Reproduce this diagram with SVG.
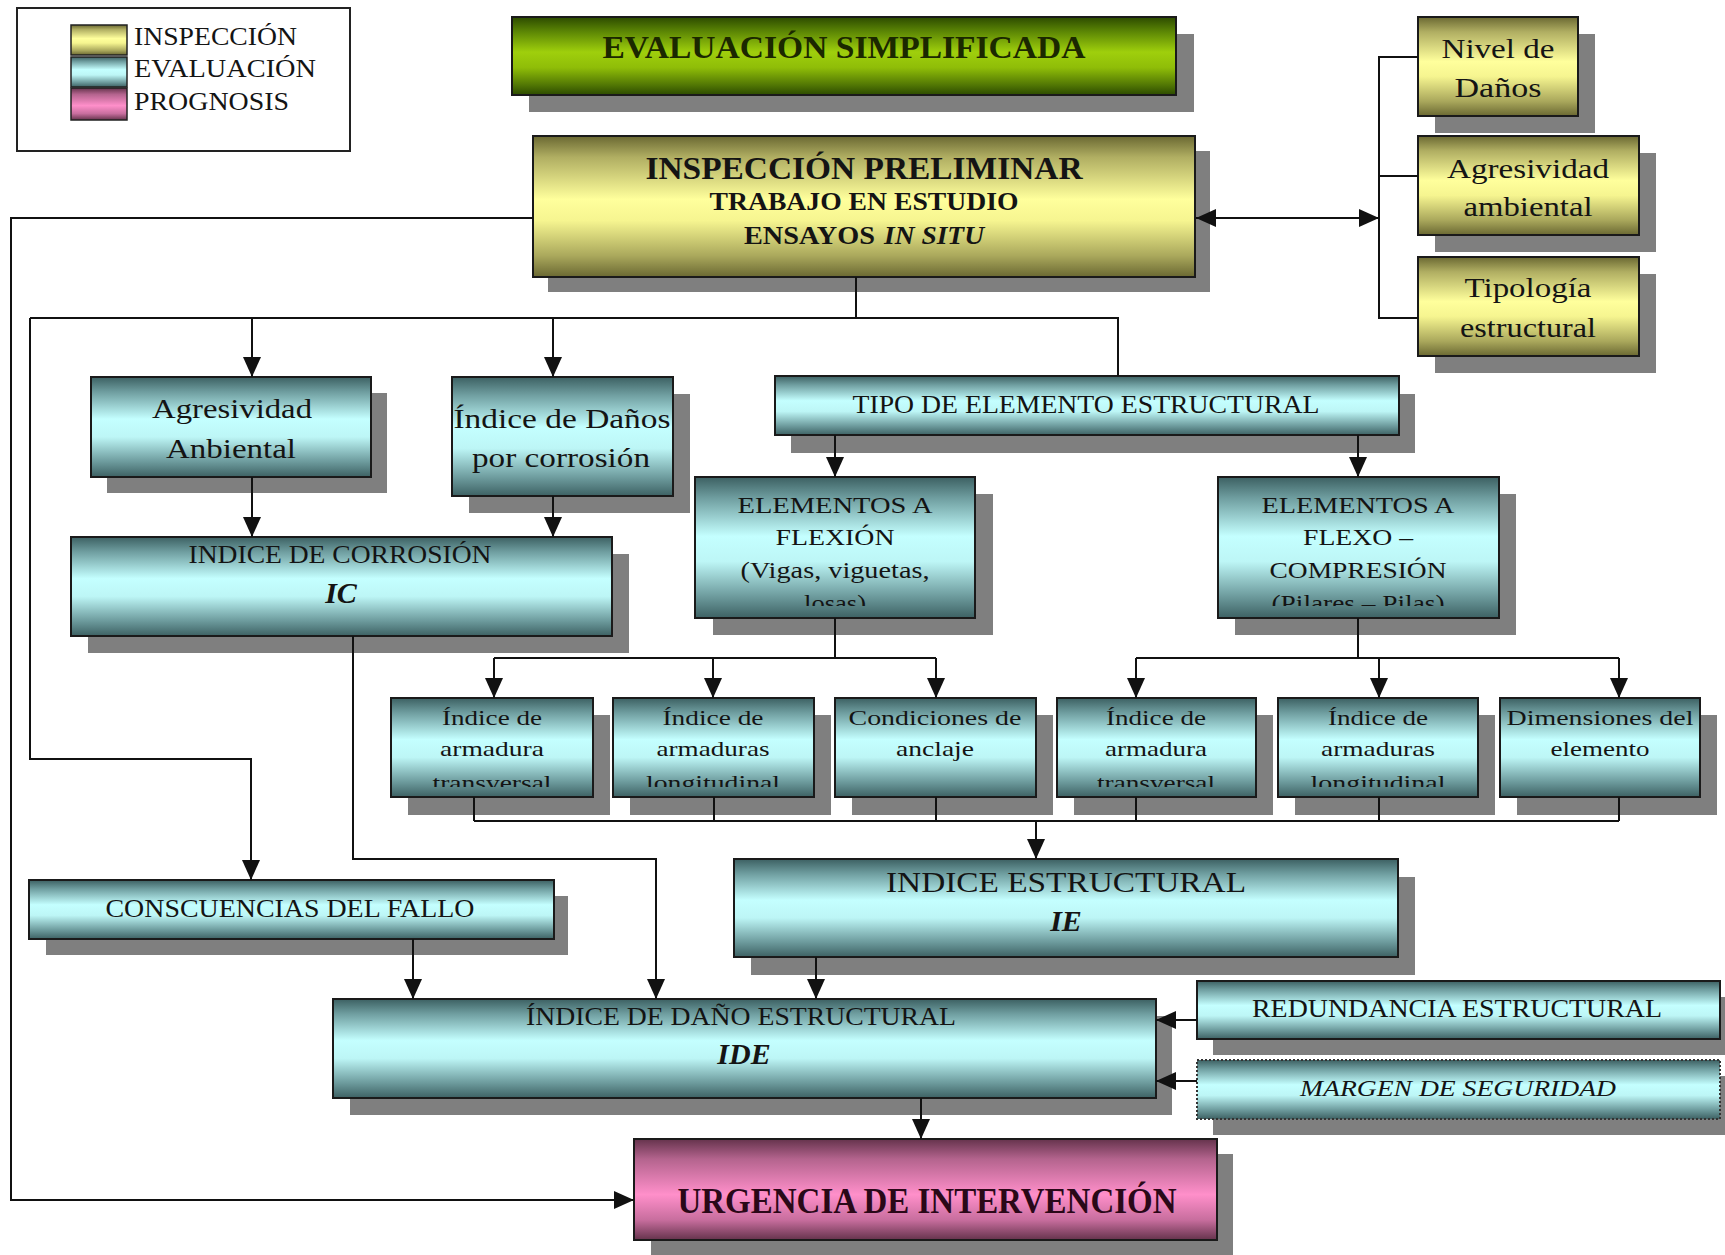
<svg xmlns="http://www.w3.org/2000/svg" width="1725" height="1255" viewBox="0 0 1725 1255">
<defs>
<style>
.sh{fill:#7f7f7f}
.bx{stroke:#1a1a1a;stroke-width:2}
.cy{fill:url(#gC)}
.ye{fill:url(#gY)}
.gr{fill:url(#gG)}
.pk{fill:url(#gP)}
.t{font-family:"Liberation Serif","Times New Roman",serif;fill:#141414}
.c{text-anchor:middle}
.b{font-weight:bold}
.i{font-style:italic}
.ln{fill:none;stroke:#111;stroke-width:2}
.ar{marker-end:url(#ah)}
</style>
<linearGradient id="gC" x1="0" y1="0" x2="0" y2="1">
<stop offset="0" stop-color="#3c6062"/><stop offset="0.15" stop-color="#6f9ea0"/><stop offset="0.42" stop-color="#c4ffff"/><stop offset="0.6" stop-color="#bdf6f6"/><stop offset="0.85" stop-color="#6c9a9c"/><stop offset="1" stop-color="#3d6163"/>
</linearGradient>
<linearGradient id="gY" x1="0" y1="0" x2="0" y2="1">
<stop offset="0" stop-color="#6a6832"/><stop offset="0.15" stop-color="#b0ae62"/><stop offset="0.45" stop-color="#ffff9c"/><stop offset="0.6" stop-color="#f6f590"/><stop offset="0.85" stop-color="#aaa85c"/><stop offset="1" stop-color="#6a6832"/>
</linearGradient>
<linearGradient id="gG" x1="0" y1="0" x2="0" y2="1">
<stop offset="0" stop-color="#2c4a00"/><stop offset="0.2" stop-color="#5f8a05"/><stop offset="0.45" stop-color="#9fcf0c"/><stop offset="0.65" stop-color="#8fbd08"/><stop offset="0.88" stop-color="#4f7404"/><stop offset="1" stop-color="#2c4a00"/>
</linearGradient>
<linearGradient id="gP" x1="0" y1="0" x2="0" y2="1">
<stop offset="0" stop-color="#65334c"/><stop offset="0.2" stop-color="#b4648e"/><stop offset="0.55" stop-color="#ff8fca"/><stop offset="0.8" stop-color="#c86e9e"/><stop offset="1" stop-color="#65334c"/>
</linearGradient>
<marker id="ah" viewBox="0 -10 20 20" refX="20" refY="0" markerWidth="20" markerHeight="20" markerUnits="userSpaceOnUse" orient="auto-start-reverse">
<path d="M0,-9 L20,0 L0,9 Z" fill="#111"/>
</marker>
<clipPath id="cFlex"><rect x="695" y="477" width="280" height="129"/></clipPath>
<clipPath id="cComp"><rect x="1218" y="477" width="281" height="129"/></clipPath>
<clipPath id="cSmall"><rect x="380" y="698" width="1330" height="89"/></clipPath>
</defs>
<rect width="1725" height="1255" fill="#ffffff"/>

<g id="legend">
<rect x="17" y="8" width="333" height="143" fill="#fff" stroke="#222" stroke-width="2"/>
<rect x="71" y="25" width="56" height="30" class="ye" stroke="#222" stroke-width="1.5"/>
<rect x="71" y="57" width="56" height="30" class="cy" stroke="#222" stroke-width="1.5"/>
<rect x="71" y="88" width="56" height="32" class="pk" stroke="#222" stroke-width="1.5"/>
<text class="t" x="134" y="45" font-size="26" textLength="163" lengthAdjust="spacingAndGlyphs">INSPECCIÓN</text>
<text class="t" x="134" y="77" font-size="26" textLength="182" lengthAdjust="spacingAndGlyphs">EVALUACIÓN</text>
<text class="t" x="134" y="110" font-size="26" textLength="155" lengthAdjust="spacingAndGlyphs">PROGNOSIS</text>
</g>

<g id="n-evaluacion">
<rect class="sh" x="529" y="34" width="665" height="78"/>
<rect class="bx gr" x="512" y="17" width="664" height="78"/>
<text class="t c b" x="844" y="58" font-size="32" style="fill:#1b2800" textLength="483" lengthAdjust="spacingAndGlyphs">EVALUACIÓN SIMPLIFICADA</text>
</g>

<g id="n-inspeccion">
<rect class="sh" x="548" y="151" width="662" height="141"/>
<rect class="bx ye" x="533" y="136" width="662" height="141"/>
<text class="t c b" x="864" y="179" font-size="32" textLength="437" lengthAdjust="spacingAndGlyphs">INSPECCIÓN PRELIMINAR</text>
<text class="t c b" x="864" y="210" font-size="25" textLength="309" lengthAdjust="spacingAndGlyphs">TRABAJO EN ESTUDIO</text>
<text class="t b" x="744" y="244" font-size="25" textLength="131" lengthAdjust="spacingAndGlyphs">ENSAYOS</text>
<text class="t b i" x="884" y="244" font-size="25" textLength="100" lengthAdjust="spacingAndGlyphs">IN SITU</text>
</g>

<g id="n-nivel">
<rect class="sh" x="1435" y="34" width="160" height="99"/>
<rect class="bx ye" x="1418" y="17" width="160" height="99"/>
<text class="t c" x="1498" y="58" font-size="27" textLength="113" lengthAdjust="spacingAndGlyphs">Nivel de</text>
<text class="t c" x="1498" y="97" font-size="27" textLength="87" lengthAdjust="spacingAndGlyphs">Daños</text>
</g>

<g id="n-agresividad-amb">
<rect class="sh" x="1435" y="153" width="221" height="99"/>
<rect class="bx ye" x="1418" y="136" width="221" height="99"/>
<text class="t c" x="1528" y="178" font-size="27" textLength="162" lengthAdjust="spacingAndGlyphs">Agresividad</text>
<text class="t c" x="1528" y="216" font-size="27" textLength="129" lengthAdjust="spacingAndGlyphs">ambiental</text>
</g>

<g id="n-tipologia">
<rect class="sh" x="1435" y="274" width="221" height="99"/>
<rect class="bx ye" x="1418" y="257" width="221" height="99"/>
<text class="t c" x="1528" y="297" font-size="27" textLength="127" lengthAdjust="spacingAndGlyphs">Tipología</text>
<text class="t c" x="1528" y="337" font-size="27" textLength="136" lengthAdjust="spacingAndGlyphs">estructural</text>
</g>

<g id="n-agresividad">
<rect class="sh" x="107" y="393" width="280" height="100"/>
<rect class="bx cy" x="91" y="377" width="280" height="100"/>
<text class="t c" x="232" y="418" font-size="27" textLength="160" lengthAdjust="spacingAndGlyphs">Agresividad</text>
<text class="t c" x="231" y="458" font-size="27" textLength="130" lengthAdjust="spacingAndGlyphs">Anbiental</text>
</g>

<g id="n-indice-danos">
<rect class="sh" x="469" y="394" width="221" height="119"/>
<rect class="bx cy" x="452" y="377" width="221" height="119"/>
<text class="t c" x="562" y="428" font-size="27" textLength="217" lengthAdjust="spacingAndGlyphs">Índice de Daños</text>
<text class="t c" x="561" y="467" font-size="27" textLength="178" lengthAdjust="spacingAndGlyphs">por corrosión</text>
</g>

<g id="n-ic">
<rect class="sh" x="88" y="554" width="541" height="99"/>
<rect class="bx cy" x="71" y="537" width="541" height="99"/>
<text class="t c" x="340" y="563" font-size="26" textLength="303" lengthAdjust="spacingAndGlyphs">INDICE DE CORROSIÓN</text>
<text class="t c b i" x="341" y="603" font-size="30">IC</text>
</g>

<g id="n-tipo">
<rect class="sh" x="791" y="394" width="624" height="59"/>
<rect class="bx cy" x="775" y="376" width="624" height="59"/>
<text class="t c" x="1086" y="413" font-size="26" textLength="467" lengthAdjust="spacingAndGlyphs">TIPO DE ELEMENTO ESTRUCTURAL</text>
</g>

<g id="n-flexion">
<rect class="sh" x="713" y="494" width="280" height="141"/>
<rect class="bx cy" x="695" y="477" width="280" height="141"/>
<g clip-path="url(#cFlex)">
<text class="t c" x="835" y="513" font-size="23" textLength="195" lengthAdjust="spacingAndGlyphs">ELEMENTOS A</text>
<text class="t c" x="835" y="545" font-size="23" textLength="119" lengthAdjust="spacingAndGlyphs">FLEXIÓN</text>
<text class="t c" x="835" y="578" font-size="23" textLength="189" lengthAdjust="spacingAndGlyphs">(Vigas, viguetas,</text>
<text class="t c" x="835" y="611" font-size="23" textLength="62" lengthAdjust="spacingAndGlyphs">losas)</text>
</g>
</g>

<g id="n-compresion">
<rect class="sh" x="1235" y="494" width="281" height="141"/>
<rect class="bx cy" x="1218" y="477" width="281" height="141"/>
<g clip-path="url(#cComp)">
<text class="t c" x="1358" y="513" font-size="23" textLength="193" lengthAdjust="spacingAndGlyphs">ELEMENTOS A</text>
<text class="t c" x="1358" y="545" font-size="23" textLength="110" lengthAdjust="spacingAndGlyphs">FLEXO –</text>
<text class="t c" x="1358" y="578" font-size="23" textLength="177" lengthAdjust="spacingAndGlyphs">COMPRESIÓN</text>
<text class="t c" x="1358" y="611" font-size="23" textLength="173" lengthAdjust="spacingAndGlyphs">(Pilares – Pilas)</text>
</g>
</g>

<g id="n-arm-trans-1">
<rect class="sh" x="408" y="715" width="202" height="100"/>
<rect class="bx cy" x="391" y="698" width="202" height="99"/>
<g clip-path="url(#cSmall)">
<text class="t c" x="492" y="725" font-size="22" textLength="100" lengthAdjust="spacingAndGlyphs">Índice de</text>
<text class="t c" x="492" y="756" font-size="22" textLength="104" lengthAdjust="spacingAndGlyphs">armadura</text>
<text class="t c" x="492" y="790" font-size="22" textLength="119" lengthAdjust="spacingAndGlyphs">transversal</text>
</g>
</g>

<g id="n-arm-long-1">
<rect class="sh" x="630" y="715" width="201" height="100"/>
<rect class="bx cy" x="613" y="698" width="201" height="99"/>
<g clip-path="url(#cSmall)">
<text class="t c" x="713" y="725" font-size="22" textLength="101" lengthAdjust="spacingAndGlyphs">Índice de</text>
<text class="t c" x="713" y="756" font-size="22" textLength="113" lengthAdjust="spacingAndGlyphs">armaduras</text>
<text class="t c" x="713" y="790" font-size="22" textLength="134" lengthAdjust="spacingAndGlyphs">longitudinal</text>
</g>
</g>

<g id="n-anclaje">
<rect class="sh" x="852" y="715" width="201" height="100"/>
<rect class="bx cy" x="835" y="698" width="201" height="99"/>
<g clip-path="url(#cSmall)">
<text class="t c" x="935" y="725" font-size="22" textLength="173" lengthAdjust="spacingAndGlyphs">Condiciones de</text>
<text class="t c" x="935" y="756" font-size="22" textLength="78" lengthAdjust="spacingAndGlyphs">anclaje</text>
</g>
</g>

<g id="n-arm-trans-2">
<rect class="sh" x="1074" y="715" width="199" height="100"/>
<rect class="bx cy" x="1057" y="698" width="199" height="99"/>
<g clip-path="url(#cSmall)">
<text class="t c" x="1156" y="725" font-size="22" textLength="100" lengthAdjust="spacingAndGlyphs">Índice de</text>
<text class="t c" x="1156" y="756" font-size="22" textLength="102" lengthAdjust="spacingAndGlyphs">armadura</text>
<text class="t c" x="1156" y="790" font-size="22" textLength="118" lengthAdjust="spacingAndGlyphs">transversal</text>
</g>
</g>

<g id="n-arm-long-2">
<rect class="sh" x="1295" y="715" width="200" height="100"/>
<rect class="bx cy" x="1278" y="698" width="200" height="99"/>
<g clip-path="url(#cSmall)">
<text class="t c" x="1378" y="725" font-size="22" textLength="100" lengthAdjust="spacingAndGlyphs">Índice de</text>
<text class="t c" x="1378" y="756" font-size="22" textLength="114" lengthAdjust="spacingAndGlyphs">armaduras</text>
<text class="t c" x="1378" y="790" font-size="22" textLength="135" lengthAdjust="spacingAndGlyphs">longitudinal</text>
</g>
</g>

<g id="n-dimensiones">
<rect class="sh" x="1517" y="715" width="200" height="100"/>
<rect class="bx cy" x="1500" y="698" width="200" height="99"/>
<g clip-path="url(#cSmall)">
<text class="t c" x="1600" y="725" font-size="22" textLength="187" lengthAdjust="spacingAndGlyphs">Dimensiones del</text>
<text class="t c" x="1600" y="756" font-size="22" textLength="99" lengthAdjust="spacingAndGlyphs">elemento</text>
</g>
</g>

<g id="n-ie">
<rect class="sh" x="751" y="877" width="664" height="98"/>
<rect class="bx cy" x="734" y="859" width="664" height="98"/>
<text class="t c" x="1066" y="892" font-size="30" textLength="360" lengthAdjust="spacingAndGlyphs">INDICE ESTRUCTURAL</text>
<text class="t c b i" x="1066" y="931" font-size="30">IE</text>
</g>

<g id="n-consecuencias">
<rect class="sh" x="46" y="896" width="522" height="59"/>
<rect class="bx cy" x="29" y="880" width="525" height="59"/>
<text class="t c" x="290" y="917" font-size="26" textLength="369" lengthAdjust="spacingAndGlyphs">CONSCUENCIAS DEL FALLO</text>
</g>

<g id="n-ide">
<rect class="sh" x="350" y="1016" width="822" height="99"/>
<rect class="bx cy" x="333" y="999" width="823" height="99"/>
<text class="t c" x="741" y="1025" font-size="26" textLength="430" lengthAdjust="spacingAndGlyphs">ÍNDICE DE DAÑO ESTRUCTURAL</text>
<text class="t c b i" x="744" y="1064" font-size="30">IDE</text>
</g>

<g id="n-redundancia">
<rect class="sh" x="1213" y="997" width="512" height="58"/>
<rect class="bx cy" x="1197" y="981" width="523" height="58"/>
<text class="t c" x="1457" y="1017" font-size="25" textLength="410" lengthAdjust="spacingAndGlyphs">REDUNDANCIA ESTRUCTURAL</text>
</g>

<g id="n-margen">
<rect class="sh" x="1213" y="1076" width="512" height="59"/>
<rect class="cy" x="1197" y="1060" width="523" height="59" stroke="#333" stroke-width="2" stroke-dasharray="2 2"/>
<text class="t c i" x="1458" y="1096" font-size="24" textLength="316" lengthAdjust="spacingAndGlyphs">MARGEN DE SEGURIDAD</text>
</g>

<g id="n-urgencia">
<rect class="sh" x="651" y="1154" width="582" height="101"/>
<rect class="bx pk" x="634" y="1139" width="583" height="101"/>
<text class="t c b" x="927" y="1213" font-size="36" style="fill:#2a0818" textLength="499" lengthAdjust="spacingAndGlyphs">URGENCIA DE INTERVENCIÓN</text>
</g>

<g id="connectors">
<path class="ln ar" d="M1196,218 L1379,218" marker-start="url(#ah)"/>
<path class="ln" d="M1418,57 H1379 V318 H1418 M1379,176 H1418"/>
<path class="ln ar" d="M533,218 H11 V1200 H634"/>
<path class="ln" d="M856,277 V318 M30,318 H1118 V376"/>
<path class="ln ar" d="M30,318 V759 H251 V880"/>
<path class="ln ar" d="M252,318 V377"/>
<path class="ln ar" d="M553,318 V377"/>
<path class="ln ar" d="M252,477 V537"/>
<path class="ln ar" d="M553,496 V537"/>
<path class="ln ar" d="M835,435 V477"/>
<path class="ln ar" d="M1358,435 V477"/>
<path class="ln" d="M835,618 V658 M494,658 H936 M1358,618 V658 M1136,658 H1619"/>
<path class="ln ar" d="M494,658 V698"/>
<path class="ln ar" d="M713,658 V698"/>
<path class="ln ar" d="M936,658 V698"/>
<path class="ln ar" d="M1136,658 V698"/>
<path class="ln ar" d="M1379,658 V698"/>
<path class="ln ar" d="M1619,658 V698"/>
<path class="ln" d="M474,797 V821 M714,797 V821 M936,797 V821 M1136,797 V821 M1379,797 V821 M1619,797 V821 M474,821 H1619"/>
<path class="ln ar" d="M1036,821 V859"/>
<path class="ln ar" d="M816,957 V999"/>
<path class="ln ar" d="M413,939 V999"/>
<path class="ln ar" d="M353,636 V859 H656 V999"/>
<path class="ln ar" d="M1197,1020 H1156"/>
<path class="ln ar" d="M1197,1081 H1156"/>
<path class="ln ar" d="M921,1098 V1139"/>
</g>
</svg>
